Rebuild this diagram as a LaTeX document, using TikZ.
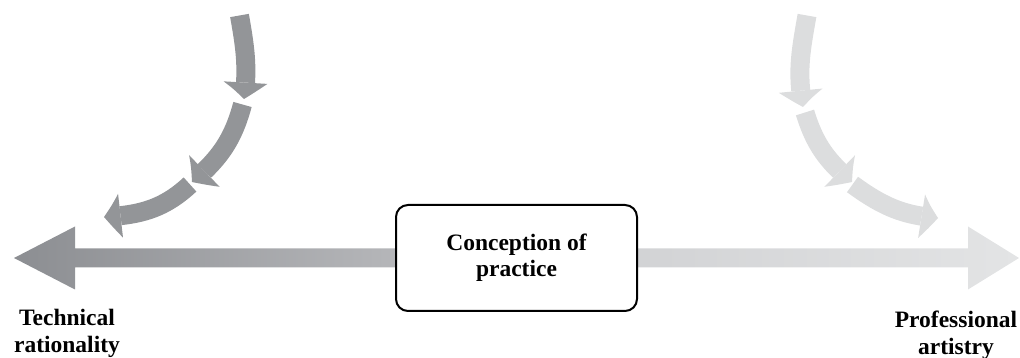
\documentclass[tikz,border=0pt]{standalone}
\usepackage{fontspec}
\setmainfont{Liberation Serif}
\usetikzlibrary{arrows.meta,backgrounds,bending,calc,positioning}
\definecolor{techgray}{HTML}{939598}
\definecolor{artgray}{HTML}{DCDDDE}
\definecolor{techtip}{HTML}{8C8E92}
\definecolor{technear}{HTML}{B5B6B9}
\definecolor{artnear}{HTML}{D2D3D5}
\definecolor{arttip}{HTML}{E3E4E5}
\tikzset{
  conceptbox/.style={
    draw=black,
    fill=white,
    rounded corners=12pt,
    line width=2pt,
    minimum width=241pt,
    minimum height=106pt,
    align=center,
    font=\fontsize{23.5}{26}\selectfont\bfseries
  },
  polelabel/.style={
    align=center,
    inner sep=0pt,
    font=\fontsize{23.5}{27}\selectfont\bfseries
  },
  bendarrow/.style={
    line width=19pt,
    line cap=butt,
    -{Triangle[width=44pt,length=17pt,line width=0pt,bend]}
  }
}

\begin{document}
\begin{tikzpicture}[x=1pt,y=1pt]
  \useasboundingbox (0,0) rectangle (1020,358);

  \node[conceptbox] (concept) at (516.5,100) {Conception of\\practice};

  \node[polelabel] (technical) at (67,25) {Technical\\rationality};
  \node[polelabel] (artistry) at (956,23) {Professional\\artistry};

  \coordinate (ltip) at (14,100);
  \coordinate (rtip) at (1019,100);

  \begin{scope}[on background layer]
    \shade[left color=techtip, right color=technear]
      (ltip) -- ++(61,31.5) -- ++(0,-22) -- ($(concept.west)+(0,9.5)$)
      -- ($(concept.west)+(0,-9.5)$) -- ($(ltip)+(61,-9.5)$)
      -- ++(0,-22) -- cycle;
    \shade[left color=artnear, right color=arttip]
      (rtip) -- ++(-51,31.5) -- ++(0,-22) -- ($(concept.east)+(0,9.5)$)
      -- ($(concept.east)+(0,-9.5)$) -- ($(rtip)+(-51,-9.5)$)
      -- ++(0,-22) -- cycle;
  \end{scope}

  % bent arrows towards technical rationality
  \coordinate (t1s) at (239.5,342.5);
  \coordinate (t1e) at (244,259);
  \coordinate (t2s) at (242.5,253.5);
  \coordinate (t2e) at (192,176);
  \coordinate (t3s) at (190,173.5);
  \coordinate (t3e) at (104,141);
  \draw[bendarrow, draw=techgray] (t1s) to[out=-80,in=83] (t1e);
  \draw[bendarrow, draw=techgray] (t2s) to[out=-105,in=40] (t2e);
  \draw[bendarrow, draw=techgray] (t3s) to[out=-137,in=3] (t3e);

  % bent arrows towards professional artistry
  \coordinate (a1s) at (807,342.5);
  \coordinate (a1e) at (803,251);
  \coordinate (a2s) at (805,245.5);
  \coordinate (a2e) at (852,176);
  \coordinate (a3s) at (852.5,173.5);
  \coordinate (a3e) at (938,140);
  \draw[bendarrow, draw=artgray] (a1s) to[out=-100,in=100] (a1e);
  \draw[bendarrow, draw=artgray] (a2s) to[out=-73,in=140] (a2e);
  \draw[bendarrow, draw=artgray] (a3s) to[out=-36,in=176] (a3e);
\end{tikzpicture}
\end{document}
